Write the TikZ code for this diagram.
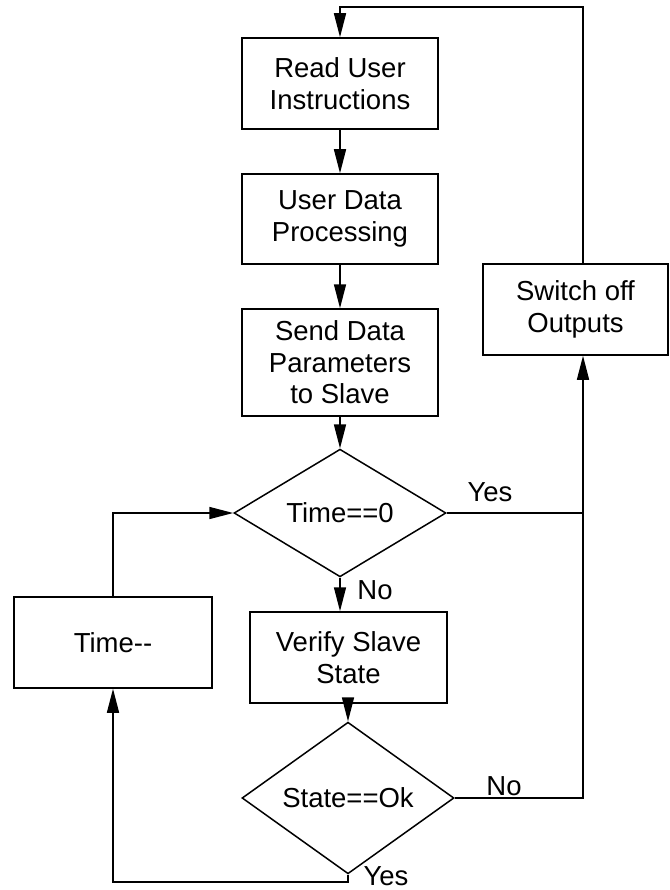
\documentclass[tikz,border=0pt]{standalone}
\usepackage{fontspec}
\setmainfont{Liberation Sans}[Ligatures=NoCommon]
\usetikzlibrary{arrows.meta,shapes.geometric}
\begin{document}
\begin{tikzpicture}[x=1pt,y=-1pt,
  line width=1.5pt,
  every node/.style={font=\fontsize{27.5}{31.5}\selectfont},
  procbox/.style={draw, rectangle, inner sep=0pt, align=center},
  decision/.style={draw, diamond, inner sep=0pt, align=center},
  flow/.style={-{Triangle[length=24pt,width=12pt]}},
  lbl/.style={inner sep=0pt}]
\useasboundingbox (0,0) rectangle (669,890);
% process boxes
\node[procbox, minimum width=196pt, minimum height=91pt] (read) at (340,83.5) {Read User\\Instructions};
\node[procbox, minimum width=196pt, minimum height=90pt] (data) at (340,219) {User Data\\Processing};
\node[procbox, minimum width=196pt, minimum height=107pt] (send) at (340,362.5) {Send Data\\Parameters\\to Slave};
\node[decision, minimum width=212pt, minimum height=118pt] (time0) at (340,513) {Time==0};
\node[procbox, minimum width=185pt, minimum height=91pt] (switch) at (575.5,309.5) {Switch off\\Outputs};
\node[procbox, minimum width=198pt, minimum height=91pt] (timedec) at (113,642.5) {Time-{}-};
\node[procbox, minimum width=197pt, minimum height=91pt] (verify) at (348.5,657.5) {Verify Slave\\State};
\node[decision, minimum width=212pt, minimum height=120pt] (stateok) at (348,798) {State==Ok};
% labels
\node[lbl] (yes1) at (490,492) {Yes};
\node[lbl] (no1) at (375,590) {No};
\node[lbl] (no2) at (504,786) {No};
\node[lbl] (yes2) at (386,876) {Yes};
% helper coordinates
\coordinate (jt) at (583,513);
\coordinate (jb) at (583,798);
\coordinate (tr) at (583,7);
\coordinate (tl) at (340,7);
\coordinate (bl) at (113,882);
% connectors
\draw[flow] (read) -- (data);
\draw[flow] (data) -- (send);
\draw[flow] (send) -- (time0);
\draw[flow] (time0.south) -- (time0.south |- verify.north);
\draw[flow] (verify.south -| stateok.north) -- (stateok.north);
\draw (time0.east) -- (jt);
\draw[flow] (stateok.east) -- (jb) -- (jt |- switch.south);
\draw[flow] (switch.north -| tr) -- (tr) -- (tl) -- (read.north);
\draw[flow] (stateok.south) -- (stateok.south |- bl) -- (bl) -- (timedec.south);
\draw[flow] (timedec.north) -- (timedec.north |- time0.west) -- (time0.west);
\end{tikzpicture}
\end{document}
